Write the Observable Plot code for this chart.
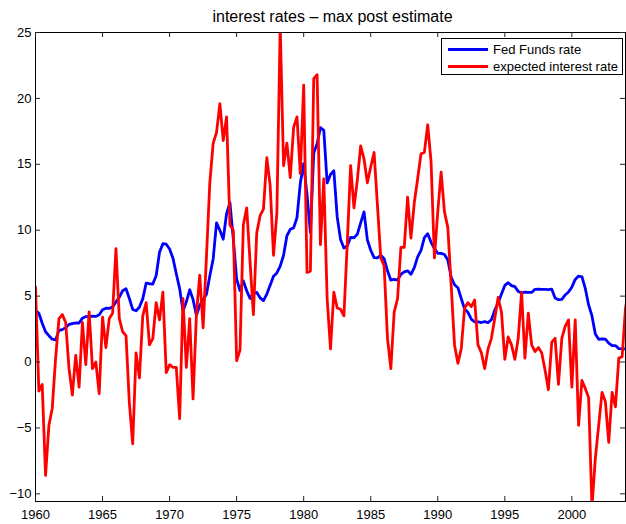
<!DOCTYPE html>
<html>
<head>
<meta charset="utf-8">
<script src="https://cdn.jsdelivr.net/npm/d3@7"></script>
<script src="https://cdn.jsdelivr.net/npm/@observablehq/plot@0.6"></script>
<style>
  body { margin: 0; background: #fff; color: #000; }
  #wrap { position: relative; width: 626px; height: 524px; font-family: "Liberation Sans", Arial, sans-serif; }
  .legend { position: absolute; left: 441px; top: 38px; width: 180px; height: 35px; border: 1px solid #000; background: #fff; font-size: 13px; }
  .legend .item { position: absolute; left: 6px; height: 16px; display: flex; align-items: center; white-space: nowrap; }
  .legend .swatch { width: 40px; height: 3px; margin-right: 5px; }
</style>
</head>
<body>
<div id="wrap"></div>
<script>
const title = "interest rates \u2013 max post estimate";
const startYear = 1960; // first quarter 1960Q1, quarterly observations
const seriesNames = ["Fed Funds rate", "expected interest rate"];
const seriesColors = ["#0000ff", "#ff0000"];
const xTicks = [1960, 1965, 1970, 1975, 1980, 1985, 1990, 1995, 2000];
const yTicks = [-10, -5, 0, 5, 10, 15, 20, 25];

const fedFunds = [
  3.93, 3.70, 2.94, 2.30,  2.00, 1.73, 1.68, 2.40,  2.46, 2.61, 2.85, 2.92,
  2.97, 2.96, 3.33, 3.45,  3.46, 3.49, 3.46, 3.58,  3.97, 4.08, 4.07, 4.17,
  4.56, 4.91, 5.41, 5.56,  4.82, 3.99, 3.89, 4.17,  4.79, 5.98, 5.94, 5.92,
  6.57, 8.33, 8.98, 8.94,  8.57, 7.88, 6.70, 5.57,  3.86, 4.57, 5.48, 4.75,
  3.54, 4.30, 4.74, 5.14,  6.54, 7.82, 10.56, 10.00, 9.32, 11.25, 12.09, 9.35,
  6.30, 5.42, 6.16, 5.41,  4.83, 5.20, 5.28, 4.87,  4.66, 5.16, 5.82, 6.51,
  6.76, 7.28, 8.10, 9.58,  10.07, 10.18, 10.95, 13.58, 15.05, 12.69, 9.84, 15.85,
  16.57, 17.78, 17.58, 13.59, 14.23, 14.51, 11.01, 9.29, 8.65, 8.80, 9.46, 9.43,
  9.69, 10.56, 11.39, 9.27, 8.48, 7.92, 7.90, 8.10,  7.83, 6.92, 6.21, 6.27,
  6.22, 6.65, 6.84, 6.92,  6.66, 7.16, 7.98, 8.47,  9.44, 9.73, 9.08, 8.61,
  8.25, 8.24, 8.16, 7.74,  6.43, 5.86, 5.64, 4.82,  4.02, 3.77, 3.26, 3.04,
  3.04, 3.00, 3.06, 2.99,  3.21, 3.94, 4.49, 5.17,  5.81, 6.02, 5.80, 5.72,
  5.36, 5.24, 5.31, 5.28,  5.28, 5.52, 5.53, 5.51,  5.52, 5.50, 5.53, 4.86,
  4.73, 4.75, 5.09, 5.31,  5.68, 6.27, 6.52, 6.47,  5.59, 4.33, 3.50, 2.13,
  1.73, 1.75, 1.74, 1.44,  1.25, 1.25, 1.02, 1.00,  1.00, 1.03
];

const expected = [
  5.7, -2.2, -1.7, -8.6,  -4.8, -3.5, 0.3, 3.3,  3.6, 3.0, -0.5, -2.5,
  0.5, -1.9, 3.0, -0.2,  3.8, -0.5, 0.0, -2.4,  3.4, 1.1, 3.3, 3.7,
  8.6, 3.3, 2.3, 2.0,  -3.1, -6.2, 0.7, -1.2,  3.5, 4.5, 1.3, 1.8,
  4.5, 3.2, 5.3, -0.8,  -0.2, -0.4, -0.4, -4.3,  4.8, -0.4, 3.3, -2.8,
  3.6, 6.6, 2.6, 8.0,  13.6, 16.6, 17.4, 19.6,  16.8, 18.6, 10.4, 10.0,
  0.1, 0.9, 10.4, 11.7,  7.6, 3.6, 9.8, 11.1,  11.6, 15.5, 13.4, 8.1,
  11.3, 25.5, 14.9, 16.6,  14.0, 17.8, 18.6, 14.3,  21.0, 6.8, 6.9, 21.5,
  21.8, 8.9, 13.9, 4.8,  1.0, 5.3, 4.1, 4.0,  3.5, 9.0, 14.9, 11.7,
  13.8, 16.4, 15.4, 13.6,  14.8, 15.9, 11.9, 7.9,  7.3, 1.8, -0.5, 3.8,
  4.8, 8.7, 8.7, 12.5,  9.4, 12.1, 13.9, 15.8,  15.9, 18.0, 15.2, 7.9,
  11.4, 14.4, 11.4, 10.2,  5.8, 1.3, -0.1, 1.0,  4.1, 4.5, 4.2, 4.7,
  1.3, 0.7, -0.5, 1.0,  1.8, 3.3, 4.9, 3.8,  0.2, 1.9, 1.3, 0.2,
  1.8, 5.3, 0.3, 3.7,  1.3, 0.8, 1.1, 0.7,  -0.6, -2.1, 1.5, 1.8,
  -1.7, 1.8, 2.7, 3.2,  -1.9, 3.2, -4.8, -1.4,  -2.0, -2.7, -11.0, -7.3,
  -4.8, -2.3, -3.0, -6.1,  -2.3, -3.4, 0.3, 0.4,  4.1, 5.5
];

const rows = fedFunds.map((v, i) => ({t: startYear + i / 4, ff: v, ex: expected[i]}));

const W = 626, H = 524, mL = 35, mR = 1, mT = 32, mB = 23;
const fh = H - mT - mB, fw = W - mL - mR;
const font = '"Liberation Sans", Arial, sans-serif';

const chart = Plot.plot({
  width: W, height: H,
  marginLeft: mL, marginRight: mR, marginTop: mT, marginBottom: mB,
  style: {fontFamily: font, fontSize: "13px", background: "white", overflow: "visible"},
  x: {domain: [1960, 2004], label: null},
  y: {domain: [-10.58, 25], label: null},
  marks: [
    Plot.lineY(rows, {x: "t", y: "ff", stroke: seriesColors[0], strokeWidth: 2.8, clip: true}),
    Plot.lineY(rows, {x: "t", y: "ex", stroke: seriesColors[1], strokeWidth: 2.8, clip: true}),
    Plot.frame({stroke: "black", strokeWidth: 1}),
    Plot.tickX(xTicks, {x: d => d, insetTop: fh - 5, stroke: "#222"}),
    Plot.tickX(xTicks, {x: d => d, insetBottom: fh - 5, stroke: "#222"}),
    Plot.tickY(yTicks, {y: d => d, insetRight: fw - 5, stroke: "#222"}),
    Plot.tickY(yTicks, {y: d => d, insetLeft: fw - 5, stroke: "#222"}),
    Plot.axisX(xTicks, {tickSize: 0, tickPadding: 8, fontSize: 13, label: null, tickFormat: d => String(d)}),
    Plot.axisY(yTicks, {tickSize: 0, tickPadding: 4, fontSize: 13, label: null}),
    Plot.text([title], {frameAnchor: "top", dy: -16, dx: 2, fontSize: 16, lineAnchor: "middle", fill: "black"})
  ]
});

const wrap = document.getElementById("wrap");
wrap.appendChild(chart);

const legend = document.createElement("div");
legend.className = "legend";
seriesNames.forEach((name, k) => {
  const item = document.createElement("div");
  item.className = "item";
  item.style.top = (k === 0 ? 2 : 19) + "px";
  const sw = document.createElement("div");
  sw.className = "swatch";
  sw.style.background = seriesColors[k];
  const label = document.createElement("span");
  label.textContent = name;
  item.appendChild(sw);
  item.appendChild(label);
  legend.appendChild(item);
});
wrap.appendChild(legend);
</script>
</body>
</html>
